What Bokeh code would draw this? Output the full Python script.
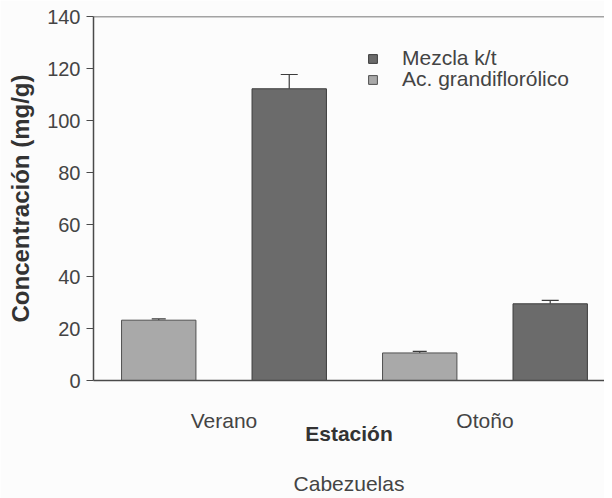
from bokeh.plotting import figure
from bokeh.models import (Range1d, FixedTicker, Whisker, TeeHead, Legend, LegendItem,
                          Span, Title, ColumnDataSource)
from bokeh.embed import file_html
from bokeh.resources import INLINE

# ---- data ----
seasons = ["Verano", "Otoño"]
mezcla = [112.2, 29.5]        # Mezcla k/t (dark)
mezcla_err = [5.5, 1.3]
acido = [23.2, 10.6]          # Ac. grandiflorólico (light)
acido_err = [0.5, 0.6]
y_ticks = [0, 20, 40, 60, 80, 100, 120, 140]

FONT = "Liberation Sans"
DARK = "#6b6b6b"
LIGHT = "#a9a9a9"
BG = "#fcfcfc"
AX = "#4a4a4a"

X_MAX = 3.916
centers = [2 * i + 1 for i in range(len(seasons))]
src_a = ColumnDataSource(dict(x=[c - 0.5 for c in centers], top=acido,
                              upper=[v + e for v, e in zip(acido, acido_err)]))
src_m = ColumnDataSource(dict(x=[c + 0.5 for c in centers], top=mezcla,
                              upper=[v + e for v, e in zip(mezcla, mezcla_err)]))

p = figure(frame_width=511, frame_height=364, output_backend="svg", toolbar_location=None,
           x_range=Range1d(0, X_MAX), y_range=Range1d(0, 140),
           min_border_top=16, min_border_left=93, min_border_right=0, min_border_bottom=118,
           background_fill_color=BG, border_fill_color=BG)
p.outline_line_color = None
p.grid.visible = False

ra = p.vbar(x="x", top="top", width=0.57, source=src_a, fill_color=LIGHT, line_color="#505050", line_width=1)
rm = p.vbar(x="x", top="top", width=0.57, source=src_m, fill_color=DARK, line_color="#3c3c3c", line_width=1)

for src, cap in ((src_a, 14), (src_m, 17)):
    w = Whisker(source=src, base="x", lower="top", upper="upper", dimension="height",
                line_color="#3c3c3c", line_width=1.2, lower_head=None,
                upper_head=TeeHead(size=cap, line_color="#3c3c3c", line_width=1.2))
    p.add_layout(w)

p.add_layout(Span(location=140, dimension="width", line_color=AX, line_width=1.5))

# y axis
ya = p.yaxis[0]
ya.ticker = FixedTicker(ticks=y_ticks)
ya.minor_tick_line_color = None
ya.major_tick_in = 0
ya.major_tick_out = 7
ya.major_tick_line_color = AX
ya.axis_line_color = AX
ya.axis_line_width = 1.5
ya.major_label_standoff = 6
ya.major_label_text_font = FONT
ya.major_label_text_font_size = "20px"
ya.major_label_text_color = "#444444"
ya.axis_label = "Concentración (mg/g)"
ya.axis_label_text_font = FONT
ya.axis_label_text_font_size = "24px"
ya.axis_label_text_font_style = "bold"
ya.axis_label_text_color = "#333333"
ya.axis_label_standoff = 10

# x axis
xa = p.xaxis[0]
xa.ticker = FixedTicker(ticks=centers)
xa.major_label_overrides = {c: s for c, s in zip(centers, seasons)}
xa.major_tick_line_color = None
xa.minor_tick_line_color = None
xa.axis_line_color = AX
xa.axis_line_width = 1.5
xa.major_label_standoff = 22
xa.major_label_text_font = FONT
xa.major_label_text_font_size = "21px"
xa.major_label_text_color = "#444444"
xa.axis_label = "Estación"
xa.axis_label_text_font = FONT
xa.axis_label_text_font_size = "21px"
xa.axis_label_text_font_style = "bold"
xa.axis_label_text_color = "#333333"
xa.axis_label_standoff = -13

p.add_layout(Title(text="Cabezuelas", align="center", text_font=FONT, text_font_size="21px",
                   text_font_style="normal", text_color="#444444", standoff=45), "below")

# legend: one single-item legend per row for tight row spacing
legend_items = [("Mezcla k/t", rm, 310), ("Ac. grandiflorólico", ra, 289)]
for label, r, ypos in legend_items:
    lg = Legend(items=[LegendItem(label=label, renderers=[r])],
                location=(274, ypos), orientation="vertical",
                label_text_font=FONT, label_text_font_size="21px", label_text_color="#444444",
                glyph_width=11, glyph_height=11, label_standoff=24, label_height=17, spacing=0,
                padding=0, margin=0, border_line_color=None, background_fill_alpha=0)
    p.add_layout(lg)

open("out.html", "w").write(file_html(p, INLINE))
